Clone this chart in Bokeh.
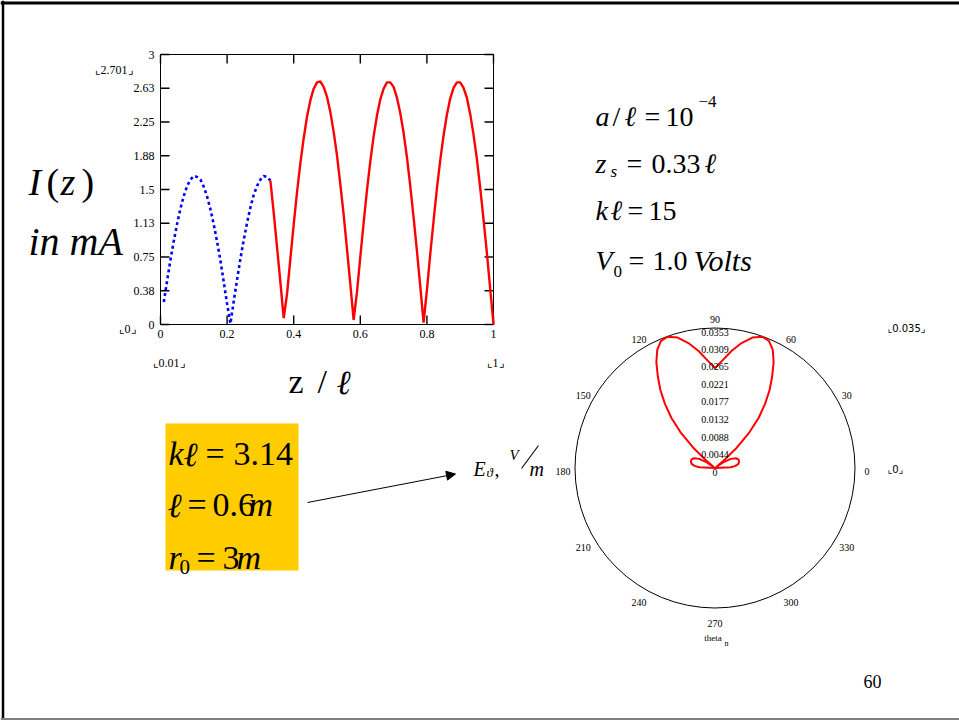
import numpy as np
from bokeh.plotting import figure
from bokeh.models import Range1d, Arrow, NormalHead
from bokeh.core.properties import value
from bokeh.embed import file_html
from bokeh.resources import INLINE

SERIF = "Liberation Serif"
SCRIPT = "DejaVu Serif"
SANS = "DejaVu Sans"
ELL = "\u2113"

# ---- current along the wire, I(z) in mA over z / l ----
# segment between the end of the wire and the feed point (dotted)
z_lower = [0.01, 0.02, 0.03, 0.04, 0.05, 0.06, 0.07, 0.08, 0.09, 0.10,
           0.11, 0.12, 0.13, 0.14, 0.15, 0.16, 0.17, 0.18, 0.19, 0.20,
           0.21, 0.22, 0.23, 0.24, 0.25, 0.26, 0.27, 0.28, 0.29, 0.30,
           0.31, 0.32, 0.33]
i_lower = [0.25, 0.49, 0.72, 0.93, 1.12, 1.29, 1.43, 1.54, 1.61, 1.65,
           1.64, 1.61, 1.53, 1.42, 1.28, 1.11, 0.92, 0.71, 0.47, 0.23,
           0.01, 0.26, 0.50, 0.73, 0.94, 1.13, 1.30, 1.44, 1.54, 1.61,
           1.65, 1.64, 1.60]
# segment from the feed point to the far end (solid)
z_upper = [0.33, 0.34, 0.35, 0.36, 0.37, 0.38, 0.39, 0.40, 0.41, 0.42,
           0.43, 0.44, 0.45, 0.46, 0.47, 0.48, 0.49, 0.50, 0.51, 0.52,
           0.53, 0.54, 0.55, 0.56, 0.57, 0.58, 0.59, 0.60, 0.61, 0.62,
           0.63, 0.64, 0.65, 0.66, 0.67, 0.68, 0.69, 0.70, 0.71, 0.72,
           0.73, 0.74, 0.75, 0.76, 0.77, 0.78, 0.79, 0.80, 0.81, 0.82,
           0.83, 0.84, 0.85, 0.86, 0.87, 0.88, 0.89, 0.90, 0.91, 0.92,
           0.93, 0.94, 0.95, 0.96, 0.97, 0.98, 0.99, 1.00]
i_upper = [1.60, 1.24, 0.86, 0.47, 0.07, 0.34, 0.73, 1.11, 1.47, 1.79,
           2.07, 2.31, 2.49, 2.62, 2.69, 2.70, 2.64, 2.53, 2.36, 2.14,
           1.88, 1.56, 1.22, 0.84, 0.45, 0.05, 0.36, 0.75, 1.13, 1.49,
           1.81, 2.09, 2.32, 2.50, 2.62, 2.69, 2.69, 2.64, 2.52, 2.35,
           2.13, 1.86, 1.54, 1.19, 0.82, 0.43, 0.02, 0.38, 0.78, 1.15,
           1.51, 1.82, 2.10, 2.33, 2.51, 2.63, 2.69, 2.69, 2.63, 2.52,
           2.34, 2.11, 1.84, 1.52, 1.17, 0.80, 0.40, 0.00]

z_ticks = [0.0, 0.2, 0.4, 0.6, 0.8, 1.0]
z_tick_labels = ["0", "0.2", "0.4", "0.6", "0.8", "1"]
i_ticks = [0.0, 0.375, 0.75, 1.125, 1.5, 1.875, 2.25, 2.625, 3.0]
i_tick_labels = ["0", "0.38", "0.75", "1.13", "1.5", "1.88", "2.25", "2.63", "3"]

# ---- far-field pattern E_theta (V/m) over theta (degrees) ----
theta_deg = [0, 3, 6, 10, 15, 20, 25, 30, 34, 38,
             40, 43, 46, 49, 52, 55, 58, 61, 64, 67,
             70, 74, 78, 82, 86, 90, 94, 98, 102, 106,
             110, 113, 116, 119, 122, 125, 128, 131, 134, 137,
             140, 142, 146, 150, 155, 160, 165, 170, 174, 177, 180]
e_theta = [0.0, 0.0040, 0.0052, 0.0060, 0.0063, 0.0063, 0.0058, 0.0046, 0.0028, 0.0003,
           0.0025, 0.0075, 0.0125, 0.0168, 0.0205, 0.0240, 0.0272, 0.0305, 0.0332, 0.0348,
           0.0352, 0.0342, 0.0322, 0.0298, 0.0272, 0.0252, 0.0272, 0.0298, 0.0322, 0.0342,
           0.0352, 0.0348, 0.0332, 0.0305, 0.0272, 0.0240, 0.0205, 0.0168, 0.0125, 0.0075,
           0.0025, 0.0003, 0.0028, 0.0046, 0.0058, 0.0063, 0.0063, 0.0060, 0.0052, 0.0040, 0.0]
r_ticks = [0.0, 0.0044, 0.0088, 0.0132, 0.0177, 0.0221, 0.0265, 0.0309, 0.0353]
r_tick_labels = ["0", "0.0044", "0.0088", "0.0132", "0.0177", "0.0221", "0.0265", "0.0309", "0.0353"]
angle_ticks = [0, 30, 60, 90, 120, 150, 180, 210, 240, 270, 300, 330]
angle_tick_labels = [str(a) for a in angle_ticks]

# ---- page geometry (pixels) ----
PAGE_W, PAGE_H = 959, 720
BOX_L, BOX_R, BOX_T, BOX_B = 160, 493, 54, 324
Z_LO, Z_HI = 0.0, 1.0
I_LO, I_HI = 0.0, 3.0
POLAR_CX, POLAR_CY, POLAR_R = 714.5, 467.5, 140.0
E_MAX = 0.0353
TICK = 9

p = figure(width=PAGE_W, height=PAGE_H,
           x_range=Range1d(0, PAGE_W), y_range=Range1d(PAGE_H, 0),
           x_axis_location=None, y_axis_location=None,
           toolbar_location=None, output_backend="svg", min_border=0,
           outline_line_color=None, background_fill_color="white",
           border_fill_color="white")
p.grid.visible = False

# scales for the current plot and the polar plot, placed on the page
zpx = (BOX_R - BOX_L) / (Z_HI - Z_LO)
ipx = (BOX_B - BOX_T) / (I_HI - I_LO)
epx = POLAR_R / E_MAX
p.extra_x_ranges = {
    "z": Range1d(Z_LO - BOX_L / zpx, Z_LO + (PAGE_W - BOX_L) / zpx),
    "ex": Range1d(-POLAR_CX / epx, (PAGE_W - POLAR_CX) / epx),
}
p.extra_y_ranges = {
    "i": Range1d(I_LO - (PAGE_H - BOX_B) / ipx, I_LO + BOX_B / ipx),
    "ey": Range1d(-(PAGE_H - POLAR_CY) / epx, POLAR_CY / epx),
}
IZ = dict(x_range_name="z", y_range_name="i")
PL = dict(x_range_name="ex", y_range_name="ey")


def run(txt, x, y, size, style="normal", font=SERIF, align="left",
        baseline="alphabetic", color="black"):
    p.text(x=[x], y=[y], text=[txt], text_font=value(font),
           text_font_size=f"{size}px", text_font_style=style,
           text_align=align, text_baseline=baseline, text_color=color)


def ell(x, y, size):
    run(ELL, x, y, size, "italic", font=SCRIPT)


# slide frame
p.segment(x0=[0], y0=[2.5], x1=[PAGE_W], y1=[2.5], line_color="black", line_width=3)
p.segment(x0=[2.5], y0=[0], x1=[2.5], y1=[PAGE_H], line_color="black", line_width=2.5)
p.segment(x0=[0], y0=[718.5], x1=[PAGE_W], y1=[718.5], line_color="#808080", line_width=2)

# ---- current plot ----
p.quad(left=[Z_LO], right=[Z_HI], bottom=[I_LO], top=[I_HI],
       fill_color=None, line_color="black", line_width=1, **IZ)
tz, ti = TICK / zpx, TICK / ipx
nz, ni = len(z_ticks), len(i_ticks)
tick_style = dict(line_color="black", line_width=1.4)
p.segment(x0=z_ticks, y0=[I_LO] * nz, x1=z_ticks, y1=[I_LO + ti] * nz, **tick_style, **IZ)
p.segment(x0=z_ticks, y0=[I_HI] * nz, x1=z_ticks, y1=[I_HI - ti] * nz, **tick_style, **IZ)
p.segment(x0=[Z_LO] * ni, y0=i_ticks, x1=[Z_LO + tz] * ni, y1=i_ticks, **tick_style, **IZ)
p.segment(x0=[Z_HI] * ni, y0=i_ticks, x1=[Z_HI - tz] * ni, y1=i_ticks, **tick_style, **IZ)
p.text(x=[Z_LO] * ni, y=i_ticks, text=i_tick_labels, x_offset=-6,
       text_align="right", text_baseline="middle", text_font=value(SERIF),
       text_font_size="12px", text_color="black", **IZ)
p.text(x=z_ticks, y=[I_LO] * nz, text=z_tick_labels, y_offset=5,
       text_align="center", text_baseline="top", text_font=value(SERIF),
       text_font_size="12px", text_color="black", **IZ)

p.line(z_lower, i_lower, line_color="#0000FF", line_width=2.6, line_dash="3 3", **IZ)
p.line(z_upper, i_upper, line_color="#FF0000", line_width=2.4, **IZ)

# range markers
run("\u231e2.701\u231f", 94, 69, 12)
run("\u231e0\u231f", 118, 328, 12)
run("\u231e0.01\u231f", 152, 362, 12)
run("\u231e1\u231f", 486, 362, 12)

# axis titles
run("I", 28, 181, 38, "italic")
run("(", 46, 181, 38)
run("z", 60, 181, 38, "italic")
run(")", 81, 181, 38)
run("in mA", 28, 241, 40, "italic")
run("z", 288, 381, 34)
run("/", 317, 381, 34)
ell(336, 381, 34)

# parameters of the current plot
run("a", 595, 116, 28, "italic")
run("/", 612, 116, 28)
ell(624, 116, 28)
run("=", 644, 116, 28)
run("10", 665, 116, 28)
run("\u22124", 698, 101, 17)
run("z", 595, 163, 28, "italic")
run("s", 610, 171, 17, "italic")
run("=", 626, 163, 28)
run("0.33", 651, 163, 28)
ell(704, 163, 28)
run("k", 595, 210, 28, "italic")
ell(610, 210, 28)
run("=", 627, 210, 28)
run("15", 648, 210, 28)
run("V", 595, 260, 28, "italic")
run("0", 613, 271, 17)
run("=", 628, 260, 28)
run("1.0", 652, 260, 28)
run("Volts", 693, 260, 30, "italic")

# parameters of the pattern (highlighted box)
p.quad(left=[165], right=[298], top=[423], bottom=[570], fill_color="#FFCC00", line_color=None)
run("k", 168, 453, 34, "italic")
ell(183, 453, 34)
run("=", 205, 453, 34)
run("3.14", 233, 453, 34)
ell(167, 504, 34)
run("=", 187, 504, 34)
run("0.6", 212, 504, 34)
run("m", 248, 504, 34, "italic")
run("r", 168, 557, 34, "italic")
run("0", 179, 566, 21)
run("=", 196, 557, 34)
run("3", 222, 557, 34)
run("m", 236, 557, 34, "italic")

p.add_layout(Arrow(end=NormalHead(size=9, fill_color="black", line_color="black", line_width=1),
                   x_start=307, y_start=502, x_end=455, y_end=473.5,
                   line_color="black", line_width=1))

# field label
run("E", 473, 468, 20, "italic")
run("\u03d1", 486, 472, 13, "italic")
run(",", 494, 468, 20)
run("V", 509, 454, 15, "italic")
p.segment(x0=[521], y0=[468], x1=[538], y1=[445], line_color="black", line_width=1.1)
run("m", 529, 468, 20, "italic")

# ---- polar plot ----
p.circle(x=[0], y=[0], radius=E_MAX, fill_color=None, line_color="black", line_width=1, **PL)
th = np.radians(theta_deg)
e = np.asarray(e_theta)
p.line(e * np.cos(th), e * np.sin(th), line_color="#FF0000", line_width=2, **PL)

p.text(x=[0.0] * len(r_ticks), y=r_ticks, text=r_tick_labels, y_offset=4,
       text_align="center", text_baseline="middle", text_font=value(SERIF),
       text_font_size="10px", text_color="black", **PL)
r_lab = E_MAX * 152 / POLAR_R
ang = np.radians(angle_ticks)
p.text(x=r_lab * np.cos(ang), y=r_lab * np.sin(ang), text=angle_tick_labels, y_offset=3,
       text_align="center", text_baseline="middle", text_font=value(SERIF),
       text_font_size="10px", text_color="black", **PL)
run("theta", 712.5, 637, 9, align="center")
run("n", 724, 643, 8)

run("\u231e0.035\u231f", 887, 328, 10, font=SANS)
run("\u231e0\u231f", 887, 469, 10, font=SANS)

# slide number
run("60", 872, 681, 18, align="center")

open("out.html", "w").write(file_html(p, INLINE))
